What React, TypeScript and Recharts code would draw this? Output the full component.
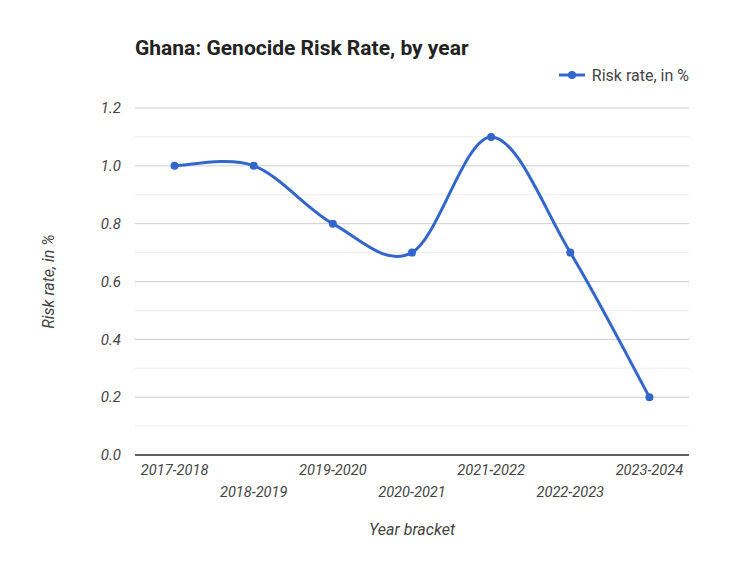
import { LineChart, Line, XAxis, YAxis, CartesianGrid, ReferenceLine, Legend, Label } from 'recharts';

const brackets = ['2017-2018', '2018-2019', '2019-2020', '2020-2021', '2021-2022', '2022-2023', '2023-2024'];
const riskRate = [1.0, 1.0, 0.8, 0.7, 1.1, 0.7, 0.2];
const yTicks = [0, 0.2, 0.4, 0.6, 0.8, 1.0, 1.2];
const minorTicks = [0.1, 0.3, 0.5, 0.7, 0.9, 1.1];

const data = brackets.map((bracket, i) => ({ bracket, rate: riskRate[i] }));

const FONT = 'Roboto, "Noto Sans", sans-serif';
const BLUE = '#3366cc';

// smooth spline through every point (cardinal, tension 0)
const smoothCurve = (context: any) => {
    let pts: [number, number][] = [];
    return {
        areaStart() {},
        areaEnd() {},
        lineStart() { pts = []; },
        point(x: number, y: number) { pts.push([+x, +y]); },
        lineEnd() {
            const n = pts.length;
            if (!n) return;
            context.moveTo(pts[0][0], pts[0][1]);
            if (n === 2) {
                context.lineTo(pts[1][0], pts[1][1]);
                return;
            }
            for (let i = 0; i < n - 1; i++) {
                const p0 = pts[Math.max(i - 1, 0)];
                const p1 = pts[i];
                const p2 = pts[i + 1];
                const p3 = pts[Math.min(i + 2, n - 1)];
                context.bezierCurveTo(
                    p1[0] + (p2[0] - p0[0]) / 6, p1[1] + (p2[1] - p0[1]) / 6,
                    p2[0] - (p3[0] - p1[0]) / 6, p2[1] - (p3[1] - p1[1]) / 6,
                    p2[0], p2[1]
                );
            }
        },
    };
};

const StaggeredTick = ({ x, y, payload, index }: any) => (
    <text
        x={x}
        y={y + (index % 2 ? 34 : 12)}
        textAnchor='middle'
        fill='#444'
        fontSize={14.6}
        fontStyle='italic'
        fontFamily={FONT}
    >
        {payload.value}
    </text>
);

const LegendContent = () => (
    <div style={{ display: 'flex', alignItems: 'center', height: 20, fontFamily: FONT, fontSize: 16, color: '#444', whiteSpace: 'nowrap' }}>
        <svg width={28} height={10} style={{ marginRight: 6 }}>
            <line x1={1} y1={5} x2={27} y2={5} stroke={BLUE} strokeWidth={3} />
            <circle cx={14} cy={5} r={4} fill={BLUE} />
        </svg>
        <span>Risk rate, in %</span>
    </div>
);

const App = () => {
    return (
        <div style={{ position: 'absolute', left: 0, top: 0, width: 750, height: 563, background: '#fff' }}>
            <div style={{
                position: 'absolute', left: 135, top: 34, fontFamily: FONT, fontWeight: 700,
                fontSize: 21, color: '#222', lineHeight: '28px', whiteSpace: 'nowrap'
            }}>
                Ghana: Genocide Risk Rate, by year
            </div>
            <LineChart width={750} height={563} data={data} margin={{ top: 88, right: 61, left: 0, bottom: 28 }}>
                <CartesianGrid vertical={false} stroke='#cccccc' />
                {minorTicks.map((v) => (
                    <ReferenceLine key={v} y={v} stroke='#ebebeb' />
                ))}
                <XAxis
                    dataKey='bracket'
                    scale='band'
                    interval={0}
                    tickLine={false}
                    axisLine={{ stroke: '#333', strokeWidth: 1.5 }}
                    tick={<StaggeredTick />}
                    height={80}
                >
                    <Label
                        value='Year bracket'
                        position='insideBottom'
                        offset={0}
                        style={{ fontFamily: FONT, fontSize: 16, fontStyle: 'italic', fill: '#444' }}
                    />
                </XAxis>
                <YAxis
                    domain={[0, 1.2]}
                    ticks={yTicks}
                    tickFormatter={(v: number) => v.toFixed(1)}
                    tickLine={false}
                    axisLine={false}
                    tickMargin={8}
                    width={135}
                    tick={{ fill: '#444', fontSize: 15, fontStyle: 'italic', fontFamily: FONT }}
                >
                    <Label
                        content={({ viewBox }: any) => (
                            <text
                                x={viewBox.x + 48}
                                y={viewBox.y + viewBox.height / 2}
                                transform={`rotate(-90, ${viewBox.x + 48}, ${viewBox.y + viewBox.height / 2})`}
                                textAnchor='middle'
                                dominantBaseline='central'
                                fill='#444'
                                fontSize={16}
                                fontStyle='italic'
                                fontFamily={FONT}
                            >
                                Risk rate, in %
                            </text>
                        )}
                    />
                </YAxis>
                <Legend
                    verticalAlign='top'
                    align='right'
                    content={<LegendContent />}
                    wrapperStyle={{ top: 65, right: 61, left: 'auto', width: 'auto', height: 20 }}
                />
                <Line
                    dataKey='rate'
                    name='Risk rate, in %'
                    type={smoothCurve as any}
                    stroke={BLUE}
                    strokeWidth={3}
                    dot={{ r: 4, fill: BLUE, stroke: 'none' }}
                    activeDot={false}
                    isAnimationActive={false}
                />
            </LineChart>
        </div>
    );
};

export default App;
